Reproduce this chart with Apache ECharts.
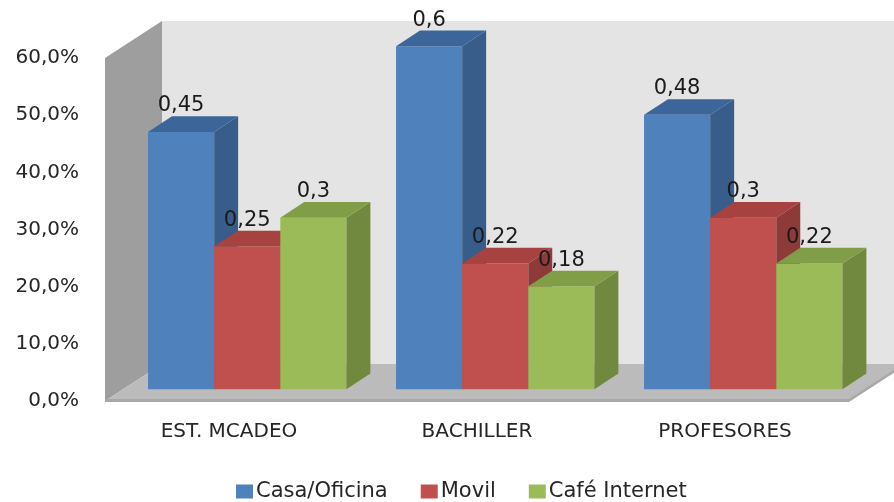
<!DOCTYPE html>
<html>
<head>
<meta charset="utf-8">
<script src="https://cdn.jsdelivr.net/npm/echarts@6/dist/echarts.min.js"></script>
<style>
  html, body { margin: 0; padding: 0; background: #ffffff; }
  #chart { width: 894px; height: 502px; }
</style>
</head>
<body>
<div id="chart"></div>
<script>
// Categories and values per access location
const categories = ['EST. MCADEO', 'BACHILLER', 'PROFESORES'];
const seriesNames = ['Casa/Oficina', 'Movil', 'Café Internet'];
const casaOficina = [0.45, 0.6, 0.48];
const movil = [0.25, 0.22, 0.3];
const cafeInternet = [0.3, 0.18, 0.22];
const yMin = 0, yMax = 0.6, yStep = 0.1;

const seriesValues = [casaOficina, movil, cafeInternet];

// Face colours for each series: front, side, top
const faces = [
  { front: '#4F81BD', side: '#385D8A', top: '#3C6699' },
  { front: '#C0504D', side: '#8E3A38', top: '#A6423F' },
  { front: '#9BBB59', side: '#71893F', top: '#809E47' }
];

// Pseudo-3D projection: full depth of the plot box in pixels
const DEPTH = [57, -37];
const BAR_FRONT = 0.32;  // fraction of depth where bar fronts sit
const BAR_DEPTH = 0.42;  // fraction of depth occupied by each bar
const GROUP_WIDTH = 0.8; // fraction of the category band used by a group

const FONT = 'DejaVu Sans';

function fmtComma(v) { return String(v).replace('.', ','); }

function poly(points, fill, z2) {
  return { type: 'polygon', shape: { points }, style: { fill, stroke: null }, z2 };
}

// Walls and floor drawn from the grid's own coordinate system
function renderFrame(params, api) {
  const band = api.size([1, 0])[0];
  const first = api.coord([0, yMin]);
  const last = api.coord([categories.length - 1, yMin]);
  const topY = api.coord([0, yMax])[1];
  const x0 = first[0] - band / 2;
  const x1 = last[0] + band / 2;
  const y0 = first[1];
  const dx = DEPTH[0], dy = DEPTH[1];
  return {
    type: 'group',
    children: [
      // back wall
      poly([[x0 + dx, topY + dy], [x1 + dx, topY + dy], [x1 + dx, y0 + dy], [x0 + dx, y0 + dy]], '#E4E4E4', 1),
      // left side wall
      poly([[x0, topY], [x0 + dx, topY + dy], [x0 + dx, y0 + dy], [x0, y0]], '#9E9E9E', 2),
      // floor
      poly([[x0, y0], [x0 + dx, y0 + dy], [x1 + dx, y0 + dy], [x1, y0]], '#BBBBBB', 3),
      // floor front edge
      poly([[x0, y0 - 2], [x1, y0 - 2], [x1, y0 + 1], [x0, y0 + 1]], '#A8A8A8', 4),
      poly([[x1, y0 - 2], [x1 + dx, y0 + dy - 2], [x1 + dx, y0 + dy + 1], [x1, y0 + 1]], '#A8A8A8', 4)
    ]
  };
}

function makeBarRenderer(si) {
  return function (params, api) {
    const ci = api.value(0);
    const v = api.value(1);
    const band = api.size([1, 0])[0];
    const top = api.coord([ci, v]);
    const base = api.coord([ci, yMin]);
    const group = band * GROUP_WIDTH;
    const bw = group / 3;
    const fx = DEPTH[0] * BAR_FRONT, fy = DEPTH[1] * BAR_FRONT;
    const dx = DEPTH[0] * BAR_DEPTH, dy = DEPTH[1] * BAR_DEPTH;
    const xl = top[0] - group / 2 + si * bw + fx;
    const xr = xl + bw;
    const yt = top[1] + fy;
    const yb = base[1] + fy;
    const f = faces[si];
    const zb = si * 4;
    return {
      type: 'group',
      children: [
        poly([[xl, yt], [xr, yt], [xr, yb], [xl, yb]], f.front, zb + 1),
        poly([[xr, yt], [xr + dx, yt + dy], [xr + dx, yb + dy], [xr, yb]], f.side, zb + 2),
        poly([[xl, yt], [xr, yt], [xr + dx, yt + dy], [xl + dx, yt + dy]], f.top, zb + 3),
        {
          type: 'text',
          z2: 100,
          style: {
            x: (xl + xr) / 2,
            y: yt - 26,
            text: fmtComma(v),
            fill: '#1a1a1a',
            font: '21px "' + FONT + '"',
            align: 'center',
            verticalAlign: 'middle'
          }
        }
      ]
    };
  };
}

const chart = echarts.init(document.getElementById('chart'), null, { renderer: 'canvas' });

const series = [
  {
    type: 'custom',
    name: '__frame',
    silent: true,
    z: 1,
    renderItem: renderFrame,
    data: [[0, 0]],
    encode: { x: 0, y: 1 }
  }
].concat(seriesValues.map((vals, si) => ({
  type: 'custom',
  name: seriesNames[si],
  z: 2,
  itemStyle: { color: faces[si].front },
  renderItem: makeBarRenderer(si),
  data: vals.map((v, ci) => [ci, v]),
  encode: { x: 0, y: 1 }
})));

chart.setOption({
  animation: false,
  backgroundColor: '#ffffff',
  textStyle: { fontFamily: FONT },
  grid: { left: 105, right: 45, top: 58, bottom: 101, containLabel: false },
  xAxis: {
    type: 'category',
    data: categories,
    axisLine: { show: false },
    axisTick: { show: false },
    splitLine: { show: false },
    axisLabel: {
      margin: 21,
      color: '#262626',
      fontSize: 20,
      lineHeight: 20,
      fontFamily: FONT
    }
  },
  yAxis: {
    type: 'value',
    min: yMin,
    max: yMax,
    interval: yStep,
    axisLine: { show: false },
    axisTick: { show: false },
    splitLine: { show: false },
    axisLabel: {
      margin: 26,
      color: '#262626',
      fontSize: 20,
      fontFamily: FONT,
      formatter: v => (v * 100).toFixed(1).replace('.', ',') + '%'
    }
  },
  legend: {
    data: seriesNames,
    top: 476,
    left: 231,
    icon: 'rect',
    itemWidth: 17,
    itemHeight: 14,
    itemGap: 33,
    textStyle: { fontSize: 21, lineHeight: 20, color: '#262626', fontFamily: FONT, padding: [0, 0, 0, -2] }
  },
  series
});
</script>
</body>
</html>
